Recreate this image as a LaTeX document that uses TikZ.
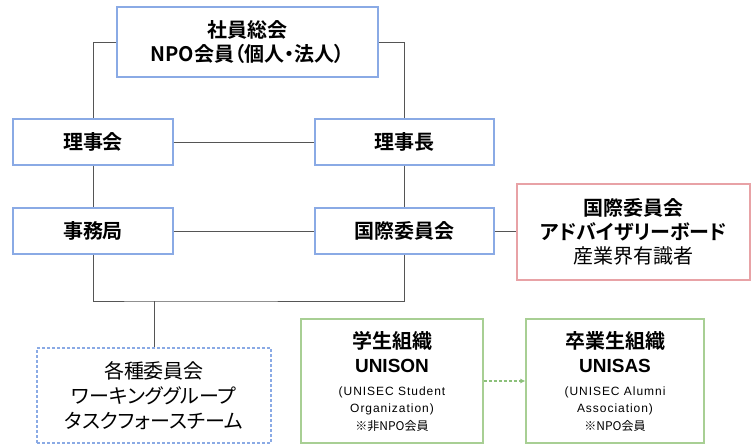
\documentclass[tikz,border=0pt]{standalone}
\usepackage{fontspec}
\usetikzlibrary{arrows.meta}
\newfontfamily\jpfont{Noto Sans CJK JP}[BoldFont={Noto Sans CJK JP Bold},CharacterWidth=AlternateProportional]
\newfontfamily\latfont{Liberation Sans}[LetterSpace=8]
\newfontfamily\latbold{Liberation Sans Bold}
\definecolor{kastenblau}{HTML}{8AAAE5}
\definecolor{kastenrot}{HTML}{E8A2A6}
\definecolor{kastengruen}{HTML}{A8CF94}
\definecolor{pfeilgruen}{HTML}{8CC07A}
\definecolor{liniengrau}{HTML}{555555}
\tikzset{
	kasten/.style={draw=kastenblau,line width=1.2pt,fill=white,inner sep=0,align=center,font=\jpfont\bfseries\fontsize{20}{24}\selectfont},
	rotkasten/.style={kasten,draw=kastenrot},
	gruenkasten/.style={kasten,draw=kastengruen,font=\latfont\fontsize{12}{17.5}\selectfont},
	strichkasten/.style={kasten,dash pattern=on 3pt off 2pt,font=\jpfont\fontsize{20}{25}\selectfont},
	linie/.style={draw=liniengrau,line width=1pt}
}
\begin{document}
\begin{tikzpicture}[x=1pt,y=-1pt]
	\useasboundingbox (0,0) rectangle (753,445);
	% Kaesten
	\node[kasten,minimum width=261pt,minimum height=70pt] (Versammlung) at (247.5,42) {社員総会\\NPO会員（個人・法人）};
	\node[kasten,minimum width=160pt,minimum height=46pt] (Rat) at (93,142) {理事会};
	\node[kasten,minimum width=179pt,minimum height=46pt] (Vorsitz) at (404.5,142) {理事長};
	\node[kasten,minimum width=160pt,minimum height=46pt] (Buero) at (93,231) {事務局};
	\node[kasten,minimum width=179pt,minimum height=46pt] (International) at (404.5,231) {国際委員会};
	\node[rotkasten,minimum width=233pt,minimum height=96pt] (Beirat) at (633.5,232) {国際委員会\\アドバイザリーボード\\{\mdseries 産業界有識者}};
	\node[strichkasten,minimum width=234pt,minimum height=95pt] (Gruppen) at (154,395.5) {各種委員会\\ワーキンググループ\\タスクフォースチーム};
	\node[gruenkasten,minimum width=182pt,minimum height=124pt] (Studenten) at (392,381) {{\jpfont\bfseries\fontsize{20}{24}\selectfont 学生組織}\\[7pt]{\latbold\fontsize{19}{24}\selectfont UNISON}\\[5pt](UNISEC Student\\Organization)\\{\jpfont ※非NPO会員}};
	\node[gruenkasten,minimum width=178pt,minimum height=124pt] (Alumni) at (615,381) {{\jpfont\bfseries\fontsize{20}{24}\selectfont 卒業生組織}\\[7pt]{\latbold\fontsize{19}{24}\selectfont UNISAS}\\[5pt](UNISEC Alumni\\Association)\\{\jpfont ※NPO会員}};
	\coordinate (Knoten) at (154,301);
	% Verbindungen
	\draw [linie] (Versammlung.west) -| (Rat.north);
	\draw [linie] (Versammlung.east) -| (Vorsitz.north);
	\draw [linie] (Rat) -- (Vorsitz);
	\draw [linie] (Rat) -- (Buero);
	\draw [linie] (Vorsitz) -- (International);
	\draw [linie] (Buero) -- (International);
	\draw [linie] (International.east) -- (International.east -| Beirat.west);
	\draw [linie] (Buero.south) |- (Knoten) -| (International.south);
	\draw [linie] (Knoten) -- (Gruppen.north);
	\draw [pfeilgruen,line width=1.1pt,dash pattern=on 3pt off 2pt] [-{Latex[length=5pt,width=5pt]}] (Studenten.east) -- (Alumni.west);
\end{tikzpicture}
\end{document}
